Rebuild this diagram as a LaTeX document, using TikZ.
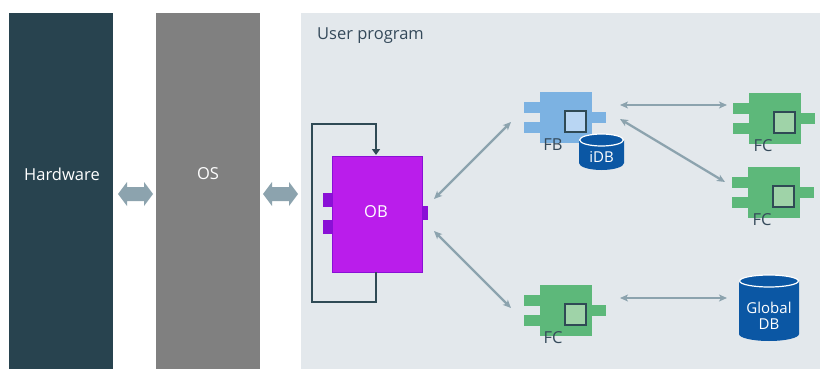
\documentclass[tikz,border=0pt]{standalone}
\usepackage{fontspec}
\setmainfont{Open Sans}
\usetikzlibrary{arrows.meta}
\definecolor{hwc}{HTML}{28434F}
\definecolor{osc}{HTML}{808080}
\definecolor{panel}{HTML}{E3E8EC}
\definecolor{obfill}{HTML}{BA1DEB}
\definecolor{obdark}{HTML}{8A10D6}
\definecolor{loopc}{HTML}{2F4A55}
\definecolor{arrc}{HTML}{8CA3AE}
\definecolor{fbc}{HTML}{7CB2E2}
\definecolor{fbin}{HTML}{B9D6F3}
\definecolor{fcc}{HTML}{5DB87A}
\definecolor{fcin}{HTML}{9FD3A8}
\definecolor{dbc}{HTML}{0B57A4}
\definecolor{txtc}{HTML}{34495A}
\tikzset{
  bar/.style={draw=none, minimum width=104pt, minimum height=356pt, inner sep=0pt, anchor=north west},
  bartext/.style={text=white, font=\fontsize{16.5}{18}\selectfont},
  conn/.style={draw=arrc, line width=2.3pt, {Stealth[length=8pt,width=7pt,inset=2pt]}-{Stealth[length=8pt,width=7pt,inset=2pt]}},
  lbl/.style={text=txtc, font=\fontsize{16.5}{18}\selectfont},
  dbtext/.style={text=white, font=\fontsize{15}{17}\selectfont},
  inner/.style={draw=loopc, line width=1.3pt},
}
\newcommand{\fblock}[4]{% #1 name, #2 x (body left), #3 y (body top), #4 color
  \fill[#4] (#2-16,#3+10) rectangle (#2,#3+21);
  \fill[#4] (#2-16,#3+30) rectangle (#2,#3+41);
  \fill[#4] (#2+51,#3+20) rectangle (#2+66,#3+31);
  \node[fill=#4, draw=none, inner sep=0pt, minimum width=52pt, minimum height=51pt, anchor=north west] (#1) at (#2,#3) {};
  \draw[inner, fill=#4in] (#2+25,#3+19) rectangle (#2+46,#3+40);
}
\newcommand{\dbcyl}[5]{% name, left x, top y, width, height
  \pgfmathsetmacro{\rx}{#4/2}
  \fill[dbc] (#2,#3+7) -- (#2,#3+#5-7) arc[start angle=180,end angle=0,x radius=\rx,y radius=7] -- (#2+#4,#3+7) -- cycle;
  \draw[white, line width=1.2pt, fill=dbc] (#2+\rx,#3+7) ellipse[x radius=\rx-0.6, y radius=6];
  \coordinate (#1) at (#2+\rx,#3+#5/2+5);
}
\begin{document}
\begin{tikzpicture}[x=1pt,y=-1pt]
\useasboundingbox (0,0) rectangle (820,369);
\fill[white] (0,0) rectangle (820,369);
% panel
\node[fill=panel, minimum width=519pt, minimum height=356pt, inner sep=0pt, anchor=north west] (panel) at (301,13) {};
\node[lbl, anchor=west, inner sep=0pt] (ptitle) at (317,36) {User program};
% bars
\node[bar, fill=hwc] (hw) at (9,13) {};
\node[bartext] at (62,174) {Hardware};
\node[bar, fill=osc] (os) at (156,13) {};
\node[bartext] at (208,174) {OS};
% fat arrows
\foreach \ax in {118,263}{
  \fill[arrc] (\ax,194) -- (\ax+9,182) -- (\ax+9,187) -- (\ax+26,187) -- (\ax+26,182) -- (\ax+35,194) -- (\ax+26,206) -- (\ax+26,201) -- (\ax+9,201) -- (\ax+9,206) -- cycle;
}
% OB
\fill[obdark] (323,193) rectangle (332,207);
\fill[obdark] (323,220) rectangle (332,234);
\fill[obdark] (421,206) rectangle (428,220);
\node[fill=obfill, draw=obdark, line width=1.5pt, minimum width=90pt, minimum height=116pt, inner sep=0pt, anchor=north west] (ob) at (331.5,155.5) {};
\node[text=white, font=\fontsize{16.5}{18}\selectfont] at (376,212) {OB};
% loop
\draw[loopc, line width=2.8pt, -{Triangle[length=6pt,width=8pt]}] (376,272) -- (376,302) -- (312,302) -- (312,124) -- (376,124) -- (376,155);
% blocks
\colorlet{fbcin}{fbin}
\colorlet{fccin}{fcin}
\fblock{fb}{540}{92}{fbc}
\fblock{fc1}{749}{93}{fcc}
\fblock{fc2}{748}{167}{fcc}
\fblock{fc3}{540}{285}{fcc}
\node[lbl] at (553,145) {FB};
\node[lbl] at (763,146) {FC};
\node[lbl] at (762,220) {FC};
\node[lbl] at (553,338) {FC};
% cylinders
\dbcyl{idb}{579}{133}{45}{37}
\node[dbtext] at (601.5,157) {iDB};
\dbcyl{gdb}{739}{274}{60}{67}
\node[dbtext, align=center, inner sep=0pt] at (769,316) {Global\\[-1pt]DB};
% connectors
\coordinate (a1) at (434,199);
\coordinate (a2) at (511,122);
\coordinate (b1) at (434,231);
\coordinate (b2) at (511,308);
\coordinate (c1) at (620,105);
\coordinate (c2) at (727,105);
\coordinate (d1) at (620,119);
\coordinate (d2) at (725,182);
\coordinate (e1) at (620,298);
\coordinate (e2) at (727,298);
\draw[conn] (a1) -- (a2);
\draw[conn] (b1) -- (b2);
\draw[conn] (c1) -- (c2);
\draw[conn] (d1) -- (d2);
\draw[conn] (e1) -- (e2);
\end{tikzpicture}
\end{document}
